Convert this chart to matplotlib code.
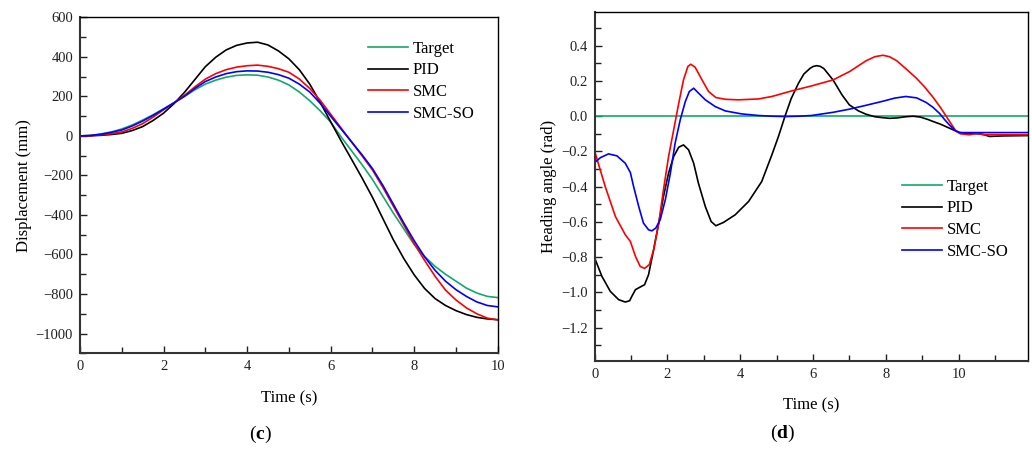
import numpy as np
import matplotlib
matplotlib.use("Agg")
import matplotlib.pyplot as plt
from matplotlib.ticker import MultipleLocator, FuncFormatter

plt.rcParams['font.family'] = ['Liberation Serif', 'DejaVu Serif']
plt.rcParams['mathtext.fontset'] = 'custom'
plt.rcParams['mathtext.rm'] = 'Liberation Serif'
plt.rcParams['mathtext.bf'] = 'Liberation Serif:bold'

# ---------------- Panel (c): displacement ----------------
t_c = [0, 0.25, 0.5, 0.75, 1, 1.25, 1.5, 1.75, 2, 2.25, 2.5, 2.75, 3, 3.25, 3.5, 3.75,
       4, 4.25, 4.5, 4.75, 5, 5.25, 5.5, 5.75, 6, 6.25, 6.5, 6.75, 7, 7.25, 7.5, 7.75,
       8, 8.25, 8.5, 8.75, 9, 9.25, 9.5, 9.75, 10]
disp_target = [0, 2, 10, 20, 35, 55, 80, 107, 137, 168, 200, 233, 262, 282, 297, 306,
               309, 307, 298, 282, 258, 222, 178, 127, 70, -5, -75, -145, -220, -305, -390, -470,
               -550, -610, -660, -700, -735, -770, -795, -812, -818]
disp_pid = [0, 0.5, 3, 7, 13, 27, 47, 78, 115, 163, 220, 285, 350, 398, 435, 458,
            470, 474, 460, 430, 390, 335, 262, 170, 72, -25, -118, -212, -310, -418, -525, -620,
            -703, -772, -823, -858, -884, -904, -918, -926, -930]
disp_smc = [0, 1, 5, 11, 20, 38, 62, 95, 132, 167, 205, 248, 287, 315, 335, 348,
            355, 358, 352, 340, 322, 288, 240, 180, 110, 40, -30, -100, -172, -260, -355, -450,
            -545, -630, -710, -780, -830, -870, -900, -922, -931]
disp_smcso = [0, 2, 8, 18, 30, 50, 75, 104, 135, 167, 200, 240, 275, 298, 315, 325,
              329, 328, 322, 310, 292, 262, 222, 165, 100, 35, -30, -95, -165, -250, -345, -440,
              -530, -612, -680, -735, -778, -812, -840, -858, -865]

# ---------------- Panel (d): heading angle ----------------
t_target = [0, 11.9]
head_target = [0, 0]

t_pid = [0, 0.2, 0.43, 0.66, 0.84, 0.96, 1.02, 1.12, 1.25, 1.37, 1.48, 1.62, 1.76, 1.89,
         2.03, 2.17, 2.31, 2.44, 2.58, 2.72, 2.85, 3.04, 3.2, 3.33, 3.54, 3.86, 4.23, 4.59,
         4.87, 5.05, 5.23, 5.4, 5.6, 5.75, 5.92, 6.0, 6.1, 6.2, 6.3, 6.55, 6.8, 7.0, 7.25,
         7.46, 7.7, 7.9, 8.1, 8.3, 8.55, 8.75, 8.95, 9.15, 9.3, 9.5, 9.75, 9.9, 10.03, 10.3,
         10.58, 10.7, 10.85, 11.2, 11.9]
head_pid = [-0.806, -0.91, -0.995, -1.042, -1.055, -1.048, -1.023, -0.985, -0.97, -0.957,
            -0.90, -0.758, -0.607, -0.456, -0.323, -0.229, -0.176, -0.163, -0.191, -0.267,
            -0.38, -0.513, -0.598, -0.622, -0.603, -0.56, -0.484, -0.371, -0.219, -0.115,
            0.0, 0.1, 0.187, 0.24, 0.272, 0.282, 0.287, 0.283, 0.27, 0.206, 0.12, 0.064, 0.03,
            0.011, -0.003, -0.008, -0.012, -0.01, -0.003, 0.0, -0.005, -0.018, -0.03, -0.045,
            -0.068, -0.082, -0.093, -0.098, -0.10, -0.105, -0.115, -0.112, -0.11]

t_smc = [0, 0.29, 0.57, 0.84, 0.98, 1.12, 1.25, 1.37, 1.5, 1.62, 1.76, 1.89, 2.03, 2.17,
         2.31, 2.44, 2.56, 2.64, 2.76, 2.95, 3.13, 3.33, 3.59, 3.95, 4.5, 4.87, 5.42, 5.96,
         6.55, 7.0, 7.2, 7.46, 7.7, 7.92, 8.1, 8.3, 8.55, 8.84, 9.05, 9.29, 9.5, 9.66, 9.8,
         9.93, 10.05, 10.3, 10.5, 10.7, 11.9]
head_smc = [-0.20, -0.40, -0.57, -0.673, -0.711, -0.796, -0.853, -0.864, -0.843, -0.758,
            -0.607, -0.418, -0.229, -0.078, 0.074, 0.206, 0.282, 0.295, 0.278, 0.206, 0.14,
            0.106, 0.096, 0.093, 0.098, 0.112, 0.144, 0.172, 0.206, 0.253, 0.28, 0.315, 0.338,
            0.346, 0.338, 0.315, 0.27, 0.216, 0.17, 0.11, 0.05, 0.0, -0.045, -0.085, -0.10,
            -0.105, -0.098, -0.105, -0.106]

t_smcso = [0, 0.16, 0.38, 0.61, 0.84, 0.98, 1.07, 1.21, 1.34, 1.48, 1.57, 1.68, 1.8, 1.94,
           2.08, 2.21, 2.35, 2.49, 2.6, 2.72, 2.81, 3.04, 3.31, 3.59, 4.04, 4.5, 4.87, 5.23,
           5.6, 5.96, 6.55, 7.0, 7.46, 7.92, 8.25, 8.55, 8.85, 9.11, 9.3, 9.48, 9.62, 9.75,
           9.9, 10.03, 10.5, 11.9]
head_smcso = [-0.263, -0.235, -0.214, -0.225, -0.267, -0.32, -0.40, -0.513, -0.607, -0.645,
              -0.651, -0.635, -0.588, -0.475, -0.323, -0.153, -0.021, 0.083, 0.14, 0.159,
              0.14, 0.093, 0.055, 0.03, 0.013, 0.004, 0.0, -0.002, 0.0, 0.004, 0.022, 0.04,
              0.062, 0.085, 0.103, 0.112, 0.104, 0.078, 0.05, 0.015, -0.02, -0.05, -0.08,
              -0.093, -0.093, -0.093]

series_names = ['Target', 'PID', 'SMC', 'SMC-SO']
colors = ['#13a86a', '#000000', '#ff0000', '#0000ff']

W, H = 1032, 450
fig = plt.figure(figsize=(W / 100, H / 100), dpi=100)

def fx(px):
    return px / W

def fy(py):
    return 1 - py / H

ax1 = fig.add_axes([fx(80), fy(353.3), fx(497.7 - 80), (353.3 - 17.3) / H])
ax2 = fig.add_axes([fx(594.7), fy(361), fx(1027.7 - 594.7), (361 - 12.3) / H])

lw = 1.2
for y, c, n in zip([disp_target, disp_pid, disp_smc, disp_smcso], colors, series_names):
    ax1.plot(t_c, y, color=c, lw=lw, label=n)

for tt, y, c, n in zip([t_target, t_pid, t_smc, t_smcso],
                       [head_target, head_pid, head_smc, head_smcso], colors, series_names):
    ax2.plot(tt, y, color=c, lw=lw, label=n)

def minus_fmt(fmt):
    return FuncFormatter(lambda v, p: (fmt % v).replace('-', '\u2212'))

ax1.set_xlim(0, 10)
ax1.set_ylim(-1100, 600)
ax1.xaxis.set_major_locator(MultipleLocator(2))
ax1.xaxis.set_minor_locator(MultipleLocator(1))
ax1.yaxis.set_major_locator(MultipleLocator(200))
ax1.yaxis.set_minor_locator(MultipleLocator(100))
ax1.yaxis.set_major_formatter(minus_fmt('%d'))
ax1.set_xlabel('Time (s)', fontsize=12, labelpad=12)
ax1.set_ylabel('Displacement (mm)', fontsize=12, labelpad=3)

ax2.set_xlim(0, 11.9)
ax2.set_ylim(-1.39, 0.59)
ax2.xaxis.set_major_locator(MultipleLocator(2))
ax2.xaxis.set_minor_locator(MultipleLocator(1))
ax2.yaxis.set_major_locator(MultipleLocator(0.2))
ax2.yaxis.set_minor_locator(MultipleLocator(0.1))
ax2.yaxis.set_major_formatter(minus_fmt('%.1f'))
ax2.set_xlabel('Time (s)', fontsize=12, labelpad=12)
ax2.set_ylabel('Heading angle (rad)', fontsize=12, labelpad=3)

for ax in (ax1, ax2):
    ax.tick_params(which='both', direction='in', top=False, right=False,
                   labelsize=10.5, colors='#222222', pad=5)
    ax.tick_params(which='major', length=5, width=1.0)
    ax.tick_params(which='minor', length=4, width=1.0)
    for s in ['top', 'right']:
        ax.spines[s].set_linewidth(1.0)
        ax.spines[s].set_color('#000000')
    for s in ['left', 'bottom']:
        ax.spines[s].set_linewidth(1.5)
        ax.spines[s].set_color('#333333')

leg_kw = dict(frameon=False, fontsize=12, handlelength=2.4, handletextpad=0.3,
              labelspacing=0.33, borderpad=0, borderaxespad=0, loc='upper left',
              bbox_transform=fig.transFigure)
ax1.legend(bbox_to_anchor=(fx(368), fy(41)), **leg_kw)
ax2.legend(bbox_to_anchor=(fx(902), fy(179)), **leg_kw)

fig.text(fx(260), fy(434), r'($\mathbf{c}$)', fontsize=14, ha='center', va='center')
fig.text(fx(783), fy(433), r'($\mathbf{d}$)', fontsize=14, ha='center', va='center')

fig.savefig('out.png', dpi=100)
